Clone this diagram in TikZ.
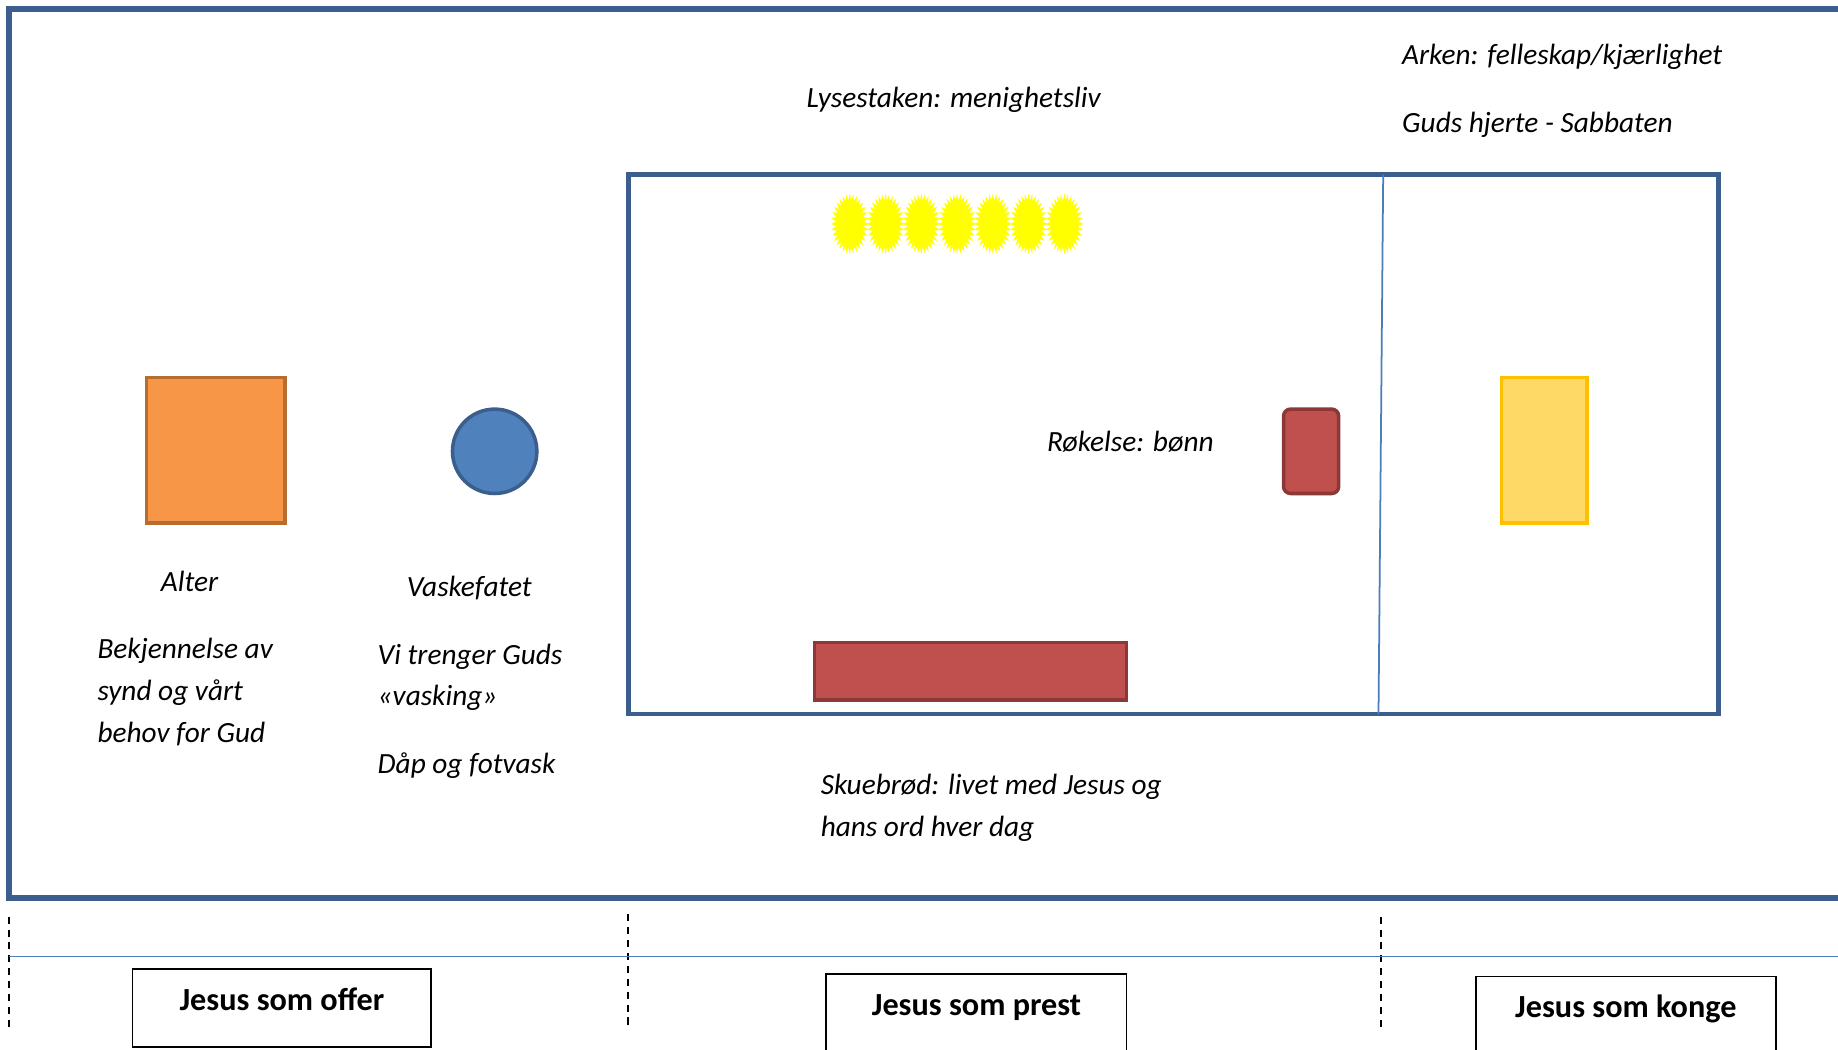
\documentclass[tikz,border=0pt]{standalone}
\usepackage{fontspec}
\setmainfont{Carlito}
\definecolor{frameblue}{HTML}{3B5E8C}
\definecolor{thinblue}{HTML}{4A7EBB}
\definecolor{altfill}{HTML}{F79646}
\definecolor{altdraw}{HTML}{B66D31}
\definecolor{basfill}{HTML}{4F81BD}
\definecolor{redfill}{HTML}{C0504D}
\definecolor{reddraw}{HTML}{8C3836}
\definecolor{arkfill}{HTML}{FFD966}
\definecolor{arkdraw}{HTML}{FFC000}
\definecolor{candle}{HTML}{FFFF00}
\begin{document}
\begin{tikzpicture}[x=1pt,y=-1pt,
  lbl/.style={anchor=base west, inner sep=0pt, font=\fontsize{25}{30}\selectfont\itshape},
  jtext/.style={anchor=base, inner sep=0pt, font=\fontsize{27.5}{32}\selectfont\bfseries},
  jbox/.style={draw=black, line width=1.6pt},
  dashline/.style={black, line width=1.5pt, dash pattern=on 6pt off 5pt},
  outerline/.style={draw=frameblue, line width=5pt},
  innerline/.style={draw=frameblue, line width=4pt},
  thinline/.style={draw=thinblue, line width=1.5pt}]
\useasboundingbox (0,0) rectangle (1568,895);
\clip (0,0) rectangle (1568,895);
\fill[white] (0,0) rectangle (1568,895);

% outer frame
\draw[outerline] (8,8) rectangle (1620,766);
% inner sanctuary
\draw[innerline] (536,149) rectangle (1466,609);
\draw[thinline] (1180,149) -- (1176,609);

% altar
\draw[fill=altfill, draw=altdraw, line width=3pt] (125,322) rectangle (243,446);
% laver
\draw[fill=basfill, draw=frameblue, line width=3pt] (422,385) circle (36);
% incense altar
\draw[fill=redfill, draw=reddraw, line width=3pt, rounded corners=6pt] (1095,349) rectangle (1142,421);
% ark
\draw[fill=arkfill, draw=arkdraw, line width=3pt] (1281,322) rectangle (1354,446);
% table of showbread
\draw[fill=redfill, draw=reddraw, line width=3pt] (695,548) rectangle (961,597);
% candles
\foreach \k in {0,...,6} {
  \fill[candle] plot[samples=65, domain=0:64, variable=\t]
    ({725+\k*30.5+cos(\t*5.625)*(16.2-4.5*mod(\t,2))}, {191+sin(\t*5.625)*(26-6*mod(\t,2))}) -- cycle;
}

% labels
\node[lbl] (lys) at (688,92) {Lysestaken: menighetsliv};
\node[lbl] (arken) at (1196,55) {Arken: felleskap/kjærlighet};
\node[lbl] (hjerte) at (1196,113) {Guds hjerte - Sabbaten};
\node[lbl] (rok) at (893,385) {Røkelse: bønn};
\node[lbl] (alter) at (137,505) {Alter};
\node[lbl] (bek1) at (83,562) {Bekjennelse av};
\node[lbl] (bek2) at (83,598) {synd og vårt};
\node[lbl] (bek3) at (83,633) {behov for Gud};
\node[lbl] (vask) at (347,509) {Vaskefatet};
\node[lbl] (vi1) at (322,567) {Vi trenger Guds};
\node[lbl] (vi2) at (322,602) {«vasking»};
\node[lbl] (dap) at (322,660) {Dåp og fotvask};
\node[lbl] (sk1) at (700,678) {Skuebrød: livet med Jesus og};
\node[lbl] (sk2) at (700,714) {hans ord hver dag};

% bottom section
\draw[dashline] (8,782) -- (8,880);
\draw[dashline] (536,780) -- (536,877);
\draw[dashline] (1178,782) -- (1178,878);
\draw[thinline] (8,816) -- (1600,816);

\draw[jbox, fill=white] (113,827) rectangle (368,893);
\draw[jbox, fill=white] (705,831) rectangle (961,910);
\draw[jbox, fill=white] (1259,833) rectangle (1515,910);
\node[jtext] (offer) at (240.5,862) {Jesus som offer};
\node[jtext] (prest) at (833,866) {Jesus som prest};
\node[jtext] (konge) at (1387,868) {Jesus som konge};
\end{tikzpicture}
\end{document}
